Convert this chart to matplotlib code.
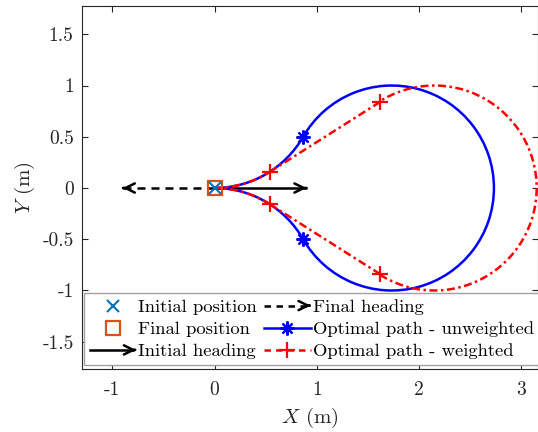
import matplotlib
matplotlib.use("Agg")
import matplotlib.pyplot as plt
from matplotlib.patches import Arc, FancyArrowPatch
from matplotlib.lines import Line2D
from matplotlib.legend_handler import HandlerBase

plt.rcParams['font.family'] = ['cmr10', 'DejaVu Serif']
plt.rcParams['mathtext.fontset'] = 'cm'
plt.rcParams['axes.unicode_minus'] = False

# ---- data ----
# unweighted optimal path: arcs (center x, center y, radius, theta1, theta2)
unw_cx = [0.0, 1.732, 0.0]
unw_cy = [1.0, 0.0, -1.0]
unw_r = [1.0, 1.0, 1.0]
unw_t1 = [-90.0, -150.0, 30.0]
unw_t2 = [-30.0, 150.0, 90.0]
unw_mark_x = [0.866, 0.866]
unw_mark_y = [0.5, -0.5]

# weighted optimal path: arcs + straight segments between markers
w_cx = [0.0, 2.15, 0.0]
w_cy = [1.0, 0.0, -1.0]
w_r = [1.0, 1.0, 1.0]
w_t1 = [-90.0, -122.2, 57.3]
w_t2 = [-57.3, 122.2, 90.0]
w_mark_x = [0.54, 1.62, 1.62, 0.54]
w_mark_y = [0.158, 0.841, -0.841, -0.158]

init_pos = (0.0, 0.0)
final_pos = (0.0, 0.0)
init_heading_end = (0.9, 0.0)
final_heading_end = (-0.9, 0.0)

xticks = [-1, 0, 1, 2, 3]
xticklabels = ['-1', '0', '1', '2', '3']
yticks = [-1.5, -1, -0.5, 0, 0.5, 1, 1.5]
yticklabels = ['-1.5', '-1', '-0.5', '0', '0.5', '1', '1.5']

BLUE = '#0000FF'
RED = '#FF0000'
MBLUE = '#0072BD'
MORANGE = '#D95319'
LW = 1.8

fig = plt.figure(figsize=(5.38, 4.32), dpi=100)
ax = fig.add_axes([82/538, 1-369/432, 456/538, 363/432])
ax.set_xlim(-1.297, 3.163)
ax.set_ylim(-1.766, 1.776)


def draw_arrow(ax, start, end, ls):
    ax.plot([start[0], end[0]], [start[1], end[1]], color='k', lw=LW, ls=ls,
            solid_capstyle='butt', dash_capstyle='butt', zorder=3)
    dx = end[0] - start[0]
    head = FancyArrowPatch((end[0] - 0.01 * dx, end[1]), end,
                           arrowstyle='->,head_length=0.45,head_width=0.22',
                           mutation_scale=15, color='k', lw=LW, shrinkA=0, shrinkB=0,
                           zorder=3)
    ax.add_patch(head)


draw_arrow(ax, init_pos, init_heading_end, '-')
draw_arrow(ax, final_pos, final_heading_end, (0, (3.2, 2.4)))

# unweighted path
for cx, cy, r, t1, t2 in zip(unw_cx, unw_cy, unw_r, unw_t1, unw_t2):
    ax.add_patch(Arc((cx, cy), 2 * r, 2 * r, theta1=t1, theta2=t2,
                     color=BLUE, lw=LW, zorder=4))
ax.plot(unw_mark_x, unw_mark_y, ls='none', marker=(8, 2, 0), ms=10,
        mew=1.6, color=BLUE, zorder=5)

# weighted path
DD = (0, (3.2, 1.4, 1.0, 1.4))
for cx, cy, r, t1, t2 in zip(w_cx, w_cy, w_r, w_t1, w_t2):
    ax.add_patch(Arc((cx, cy), 2 * r, 2 * r, theta1=t1, theta2=t2,
                     color=RED, lw=LW, ls=DD, zorder=5))
ax.plot(w_mark_x[0:2], w_mark_y[0:2], color=RED, lw=LW, ls=DD, zorder=5)
ax.plot(w_mark_x[2:4], w_mark_y[2:4], color=RED, lw=LW, ls=DD, zorder=5)
ax.plot(w_mark_x, w_mark_y, ls='none', marker='+', ms=11, mew=1.6,
        color=RED, zorder=6)

ax.plot([final_pos[0]], [final_pos[1]], ls='none', marker='s', ms=10,
        mfc='none', mec=MORANGE, mew=1.6, zorder=7)
ax.plot([init_pos[0]], [init_pos[1]], ls='none', marker='x', ms=8,
        mew=1.5, color=MBLUE, zorder=8)

ax.set_xticks(xticks)
ax.set_xticklabels(xticklabels)
ax.set_yticks(yticks)
ax.set_yticklabels(yticklabels)
ax.tick_params(direction='in', top=True, right=True, length=4, width=0.8,
               labelsize=14, colors='#262626')
ax.tick_params(axis='x', pad=9)
ax.tick_params(axis='y', pad=6)
for s in ax.spines.values():
    s.set_color('#262626')
    s.set_linewidth(0.8)
ax.set_xlabel(r'$X$ (m)', fontsize=15, color='#262626', labelpad=5)
ax.set_ylabel(r'$Y$ (m)', fontsize=15, color='#262626', labelpad=4)


class ArrowHandler(HandlerBase):
    def __init__(self, ls):
        super().__init__()
        self.ls = ls

    def create_artists(self, legend, orig_handle, xdescent, ydescent, width,
                       height, fontsize, trans):
        y = height / 2 - ydescent
        x0 = -xdescent
        x1 = -xdescent + width
        line = Line2D([x0, x1 - 2], [y, y], color='k', lw=LW, ls=self.ls,
                      transform=trans)
        head = FancyArrowPatch((x1 - 1, y), (x1, y),
                               arrowstyle='->,head_length=0.45,head_width=0.22',
                               mutation_scale=15, color='k', lw=LW,
                               shrinkA=0, shrinkB=0, transform=trans)
        return [line, head]


h_init = Line2D([], [], ls='none', marker='x', ms=8, mew=1.5, color=MBLUE)
h_final = Line2D([], [], ls='none', marker='s', ms=10, mfc='none', mec=MORANGE, mew=1.6)
h_ih = Line2D([], [], color='k')
h_fh = Line2D([], [], color='k', ls='--')
h_unw = Line2D([], [], color=BLUE, lw=LW, marker=(8, 2, 0), ms=10, mew=1.6)
h_w = Line2D([], [], color=RED, lw=LW, ls=(0, (2.6, 2.0)), marker='+', ms=11, mew=1.6)

leg = ax.legend([h_init, h_final, h_ih, h_fh, h_unw, h_w],
                ['Initial position', 'Final position', 'Initial heading',
                 'Final heading', 'Optimal path - unweighted',
                 'Optimal path - weighted'],
                handler_map={h_ih: ArrowHandler('-'), h_fh: ArrowHandler((0, (2.6, 2.2)))},
                ncol=2, loc='lower left', bbox_to_anchor=(2/456, 4/363),
                fontsize=13.4, frameon=True, fancybox=False, edgecolor='#a0a0a0',
                framealpha=1, handlelength=2.5, handletextpad=0.1,
                columnspacing=0.4, borderpad=0.3, labelspacing=0.33,
                borderaxespad=0, numpoints=1)
leg.get_frame().set_linewidth(1.0)

fig.savefig('out.png', dpi=100)
